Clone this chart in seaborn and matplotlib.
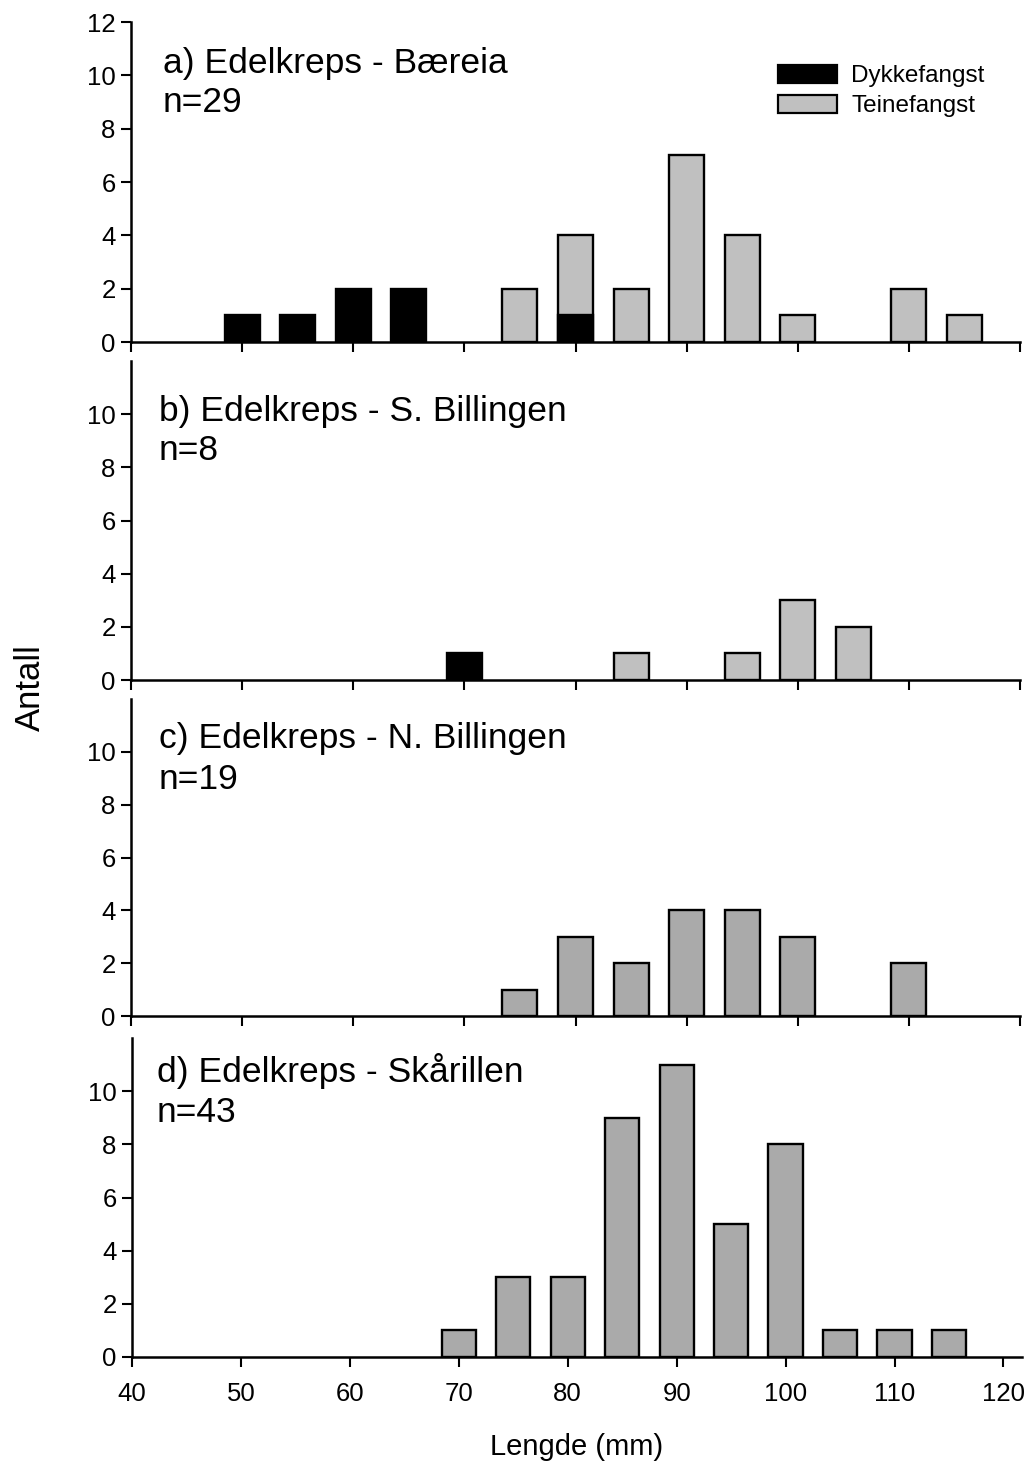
import numpy as np
import pandas as pd
import matplotlib
matplotlib.use("Agg")
import matplotlib.pyplot as plt
import seaborn as sns
from matplotlib.patches import Patch

# Data (length class in mm, number of crayfish)
lengde_a_dykke = [50, 55, 60, 65, 80]
antall_a_dykke = [1, 1, 2, 2, 1]
lengde_a_teine = [75, 80, 85, 90, 95, 100, 110, 115]
antall_a_teine = [2, 3, 2, 7, 4, 1, 2, 1]

lengde_b_dykke = [70]
antall_b_dykke = [1]
lengde_b_teine = [85, 95, 100, 105]
antall_b_teine = [1, 1, 3, 2]

lengde_c = [75, 80, 85, 90, 95, 100, 110]
antall_c = [1, 3, 2, 4, 4, 3, 2]

lengde_d = [70, 75, 80, 85, 90, 95, 100, 105, 110, 115]
antall_d = [1, 3, 3, 9, 11, 5, 8, 1, 1, 1]

titler = ["a) Edelkreps - Bæreia", "b) Edelkreps - S. Billingen",
          "c) Edelkreps - N. Billingen", "d) Edelkreps - Skårillen"]
n_tekst = ["n=29", "n=8", "n=19", "n=43"]

LYS = "#c0c0c0"
MORK = "#aaaaaa"
W, H = 1031, 1467


def stacked_frame(l_dykke, a_dykke, l_teine, a_teine):
    dyk = pd.Series(a_dykke, index=l_dykke, dtype=float)
    tei = pd.Series(a_teine, index=l_teine, dtype=float)
    # teine bars are stacked on top of dykke bars -> draw total height first
    total = tei.add(dyk.reindex(tei.index).fillna(0))
    df_t = pd.DataFrame({"lengde": total.index, "antall": total.values, "fangst": "Teinefangst"})
    df_d = pd.DataFrame({"lengde": dyk.index, "antall": dyk.values, "fangst": "Dykkefangst"})
    return pd.concat([df_t, df_d], ignore_index=True)


def rect(l, t, r, b):
    return [l / W, 1 - b / H, (r - l) / W, (b - t) / H]


sns.set_style("ticks")
plt.rcParams["font.family"] = ["Liberation Sans", "DejaVu Sans"]
for k in ["text.color", "axes.labelcolor", "xtick.color", "ytick.color", "axes.edgecolor"]:
    plt.rcParams[k] = "black"

fig = plt.figure(figsize=(W / 100, H / 100), dpi=100)
rects = [rect(131, 22, 1020, 342), rect(131, 361, 1020, 680),
         rect(131, 699, 1020, 1016), rect(132, 1038, 1022, 1357)]
axes = [fig.add_axes(r) for r in rects]

frames = [
    stacked_frame(lengde_a_dykke, antall_a_dykke, lengde_a_teine, antall_a_teine),
    stacked_frame(lengde_b_dykke, antall_b_dykke, lengde_b_teine, antall_b_teine),
    pd.DataFrame({"lengde": lengde_c, "antall": antall_c, "fangst": "Teinefangst"}),
    pd.DataFrame({"lengde": lengde_d, "antall": antall_d, "fangst": "Teinefangst"}),
]
gra = [LYS, LYS, MORK, MORK]

for i, (ax, df) in enumerate(zip(axes, frames)):
    sns.barplot(data=df, x="lengde", y="antall", hue="fangst",
                hue_order=["Teinefangst", "Dykkefangst"],
                palette={"Teinefangst": gra[i], "Dykkefangst": "black"},
                native_scale=True, dodge=False, width=0.63, errorbar=None,
                edgecolor="black", linewidth=1.7, legend=False, ax=ax)
    ax.set_xlim(40, 120 if i < 3 else 121.7)
    ax.set_xticks(np.arange(40, 121, 10))
    ax.set_ylim(0, 12)
    ax.set_yticks(np.arange(0, 13, 2) if i == 0 else np.arange(0, 11, 2))
    ax.set_xlabel("")
    ax.set_ylabel("")
    for s in ["top", "right"]:
        ax.spines[s].set_visible(False)
    for s in ["left", "bottom"]:
        ax.spines[s].set_linewidth(1.8)
    ax.tick_params(axis="both", direction="out", length=7, width=1.5,
                   labelsize=18.5, pad=4, colors="black")
    if i < 3:
        ax.tick_params(axis="x", labelbottom=False)
    else:
        ax.tick_params(axis="x", pad=11)

# panel titles (pixel positions of the baselines in the reference)
tittel_pos = [(163, 73, 112), (159, 421, 460), (159, 748, 789), (157, 1082, 1122)]
for ax, r, tit, nt, (x0, y1, y2) in zip(axes, rects, titler, n_tekst, tittel_pos):
    fig.text(x0 / W, 1 - y1 / H, tit, fontsize=25.5, va="baseline", ha="left")
    fig.text(x0 / W, 1 - y2 / H, nt, fontsize=25.5, va="baseline", ha="left")

handles = [Patch(facecolor="black", edgecolor="black", linewidth=1.6, label="Dykkefangst"),
           Patch(facecolor=LYS, edgecolor="black", linewidth=1.6, label="Teinefangst")]
axes[0].legend(handles=handles, loc="upper left", bbox_to_anchor=(0.728, 0.866),
               frameon=False, fontsize=17.5, handlelength=2.4, handleheight=0.78,
               handletextpad=0.6, labelspacing=0.3, borderpad=0, borderaxespad=0)

fig.text(30 / W, 1 - 688 / H, "Antall", fontsize=25, rotation=90, ha="center", va="center")
fig.text(577 / W, 1 - 1447 / H, "Lengde (mm)", fontsize=21, ha="center", va="center")

fig.savefig("out.png", dpi=100)
